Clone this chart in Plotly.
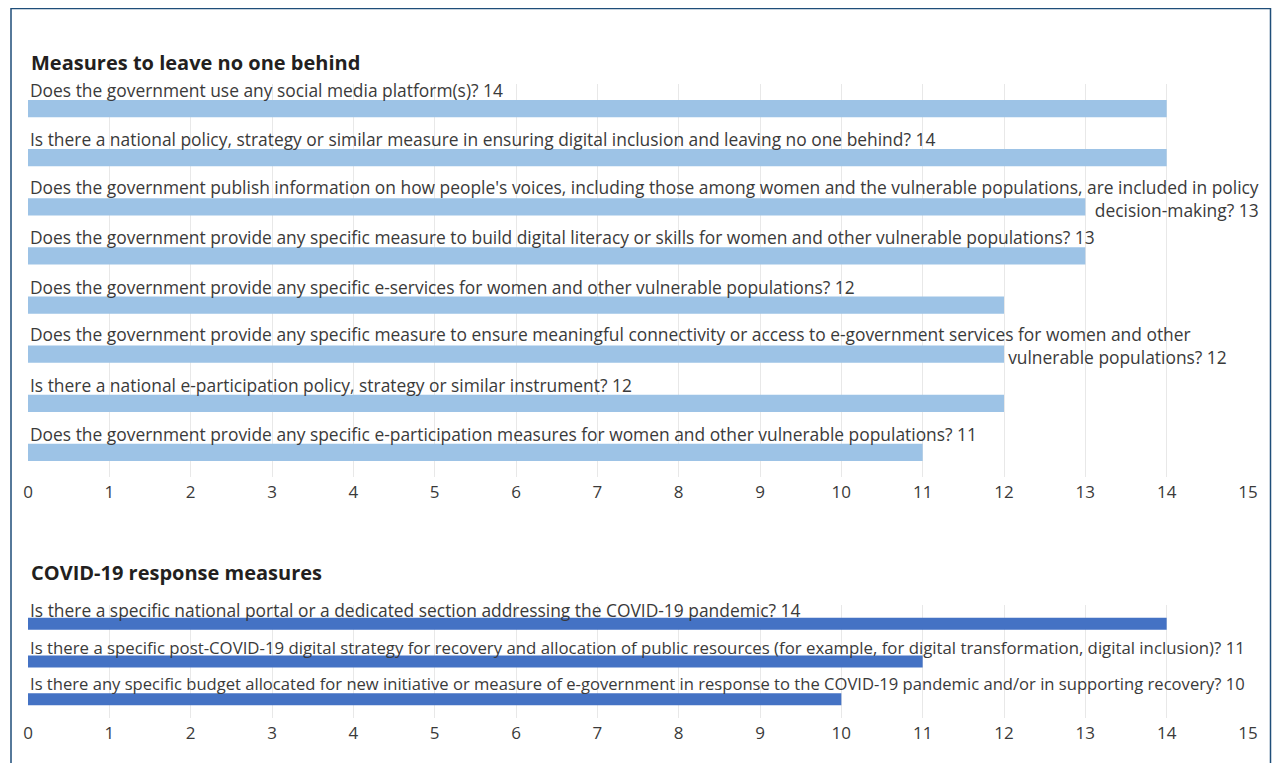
import plotly.graph_objects as go
from plotly.subplots import make_subplots

# ---------------- data ----------------
top_title = "Measures to leave no one behind"
top_labels = [
    "Does the government use any social media platform(s)?",
    "Is there a national policy, strategy or similar measure in ensuring digital inclusion and leaving no one behind?",
    "Does the government publish information on how people's voices, including those among women and the vulnerable populations, are included in policy decision-making?",
    "Does the government provide any specific measure to build digital literacy or skills for women and other vulnerable populations?",
    "Does the government provide any specific e-services for women and other vulnerable populations?",
    "Does the government provide any specific measure to ensure meaningful connectivity or access to e-government services for women and other vulnerable populations?",
    "Is there a national e-participation policy, strategy or similar instrument?",
    "Does the government provide any specific e-participation measures for women and other vulnerable populations?",
]
top_values = [14, 14, 13, 13, 12, 12, 12, 11]

bottom_title = "COVID-19 response measures"
bottom_labels = [
    "Is there a specific national portal or a dedicated section addressing the COVID-19 pandemic?",
    "Is there a specific post-COVID-19 digital strategy for recovery and allocation of public resources (for example, for digital transformation, digital inclusion)?",
    "Is there any specific budget allocated for new initiative or measure of e-government in response to the COVID-19 pandemic and/or in supporting recovery?",
]
bottom_values = [14, 11, 10]

x_ticks = list(range(0, 16))

# ---------------- styling / layout constants ----------------
OFF = 8                      # page body margin
W, H = 1280 - 2 * OFF, 763 - OFF
ML, MR, MT, MB = 20, 24, 76, 45
PH = H - MT - MB
PW = W - ML - MR
FONT = "'Open Sans', Lato, sans-serif"
TXT = "#3a3a3a"
LIGHT = "#9dc3e6"
DARK = "#4472c4"
GRID = "#e8e8e8"
TOP_SIZE = 17.4
BOT_SIZES = [17.4, 16.8, 16.6]
BOT_SHIFT = [13.5, 14.5, 15.5]

# wrapped labels in the top panel: break after word, trailing padding (nbsp count)
WRAP = {2: ("policy", 0), 5: ("other", 8)}


def py2paper(py):
    return (H - MB - (py - OFF)) / PH


def px2paper(px):
    return (px - OFF - ML) / PW


top_dom = [py2paper(477), 1.0]
bot_dom = [0.0, py2paper(605)]

fig = make_subplots(rows=2, cols=1)

fig.add_trace(go.Bar(x=top_values, y=top_labels, orientation="h",
                     marker=dict(color=LIGHT, line=dict(width=0)), width=0.35,
                     hoverinfo="x+y"), row=1, col=1)
fig.add_trace(go.Bar(x=bottom_values, y=bottom_labels, orientation="h",
                     marker=dict(color=DARK, line=dict(width=0)), width=0.32,
                     hoverinfo="x+y"), row=2, col=1)

annotations = []
for i, (lab, val) in enumerate(zip(top_labels, top_values)):
    full = f"{lab} {val}"
    lfont = dict(size=TOP_SIZE, color=TXT, family=FONT)
    if i in WRAP:
        word, pad = WRAP[i]
        k = full.index(" " + word + " ") + len(word) + 1
        text = full[:k] + "&nbsp;" * pad + "<br>" + full[k + 1:]
        annotations.append(dict(x=0, y=lab, xref="x", yref="y", text=text,
                                xanchor="left", yanchor="middle", align="right",
                                yshift=8.5, showarrow=False, font=lfont))
    else:
        annotations.append(dict(x=0, y=lab, xref="x", yref="y", text=full,
                                xanchor="left", yanchor="middle", yshift=18.5,
                                showarrow=False, font=lfont))

for lab, val, sz, sh in zip(bottom_labels, bottom_values, BOT_SIZES, BOT_SHIFT):
    annotations.append(dict(x=0, y=lab, xref="x2", yref="y2", text=f"{lab} {val}",
                            xanchor="left", yanchor="middle", yshift=sh,
                            showarrow=False, font=dict(size=sz, color=TXT, family=FONT)))

tfont = dict(size=20, color="#231f20", family=FONT)
annotations.append(dict(x=px2paper(29), y=py2paper(63), xref="paper", yref="paper",
                        text=f"<b>{top_title}</b>", xanchor="left", yanchor="middle",
                        showarrow=False, font=tfont))
annotations.append(dict(x=px2paper(29), y=py2paper(572), xref="paper", yref="paper",
                        text=f"<b>{bottom_title}</b>", xanchor="left", yanchor="middle",
                        showarrow=False, font=tfont))

xa = dict(range=[0, 15], tickvals=x_ticks, showgrid=True, gridcolor=GRID, gridwidth=1,
          zeroline=False, showline=False, ticks="", fixedrange=True,
          tickfont=dict(size=17, color=TXT, family=FONT), ticklabelstandoff=3)
ya = dict(showticklabels=False, showgrid=False, zeroline=False, fixedrange=True,
          type="category")

fig.update_layout(
    width=W, height=H,
    margin=dict(l=ML, r=MR, t=MT, b=MB),
    paper_bgcolor="white", plot_bgcolor="white",
    showlegend=False,
    font=dict(family=FONT, color=TXT),
    xaxis=dict(xa, domain=[0, 1]),
    xaxis2=dict(xa, domain=[0, 1]),
    yaxis=dict(ya, domain=top_dom, categoryorder="array", categoryarray=top_labels,
               range=[len(top_labels) - 0.5, -0.5]),
    yaxis2=dict(ya, domain=bot_dom, categoryorder="array", categoryarray=bottom_labels,
                range=[len(bottom_labels) - 0.5, -0.5]),
    annotations=annotations,
    shapes=[dict(type="rect", xref="paper", yref="paper",
                 x0=px2paper(11), x1=px2paper(1270.5), y0=py2paper(780), y1=py2paper(8.5),
                 line=dict(color="#1f4e79", width=1.5), fillcolor="rgba(0,0,0,0)",
                 layer="above")],
)

fig.write_html("out.html")
